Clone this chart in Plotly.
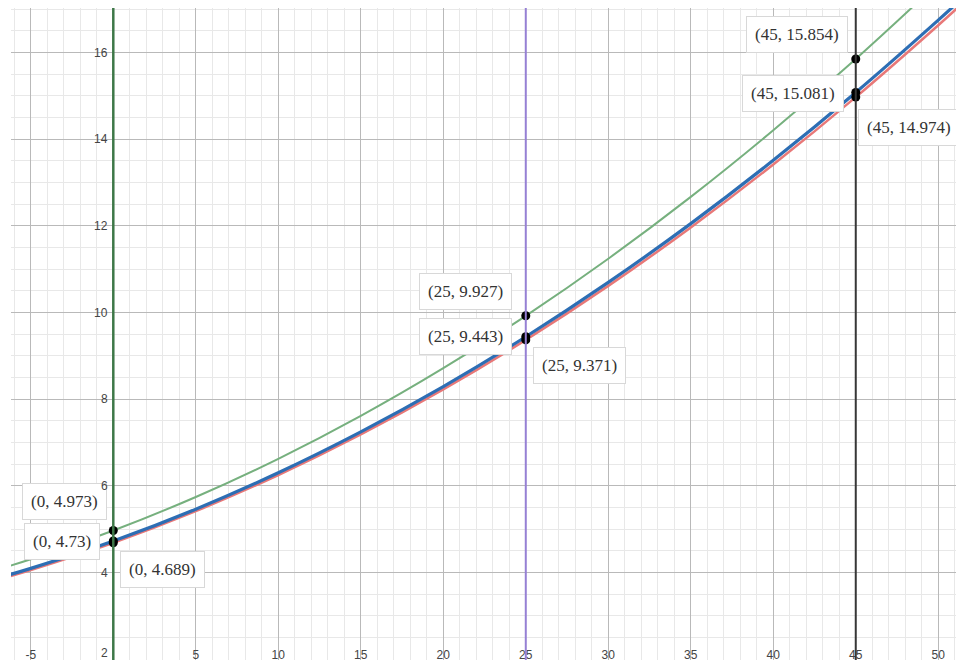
import plotly.graph_objects as go

# ---- data ----
x_samples = [-7, -5, 0, 5, 10, 15, 20, 25, 30, 35, 40, 45, 50, 52]
green_y = [4.075, 4.310, 4.973, 5.746, 6.627, 7.618, 8.718, 9.927, 11.245, 12.672, 14.209, 15.854, 17.609, 18.341]
blue_y = [3.875, 4.099, 4.730, 5.465, 6.304, 7.247, 8.293, 9.443, 10.697, 12.055, 13.516, 15.081, 16.750, 17.447]
red_y = [3.840, 4.062, 4.689, 5.419, 6.252, 7.189, 8.228, 9.371, 10.617, 11.966, 13.419, 14.974, 16.633, 17.325]

marker_x = [0, 25, 45]
point_x = [0, 0, 0, 25, 25, 25, 45, 45, 45]
point_y = [4.973, 4.73, 4.689, 9.927, 9.443, 9.371, 15.854, 15.081, 14.974]

x_tick_vals = [-5, 0, 5, 10, 15, 20, 25, 30, 35, 40, 45, 50]
x_tick_text = ["-5", "", "5", "10", "15", "20", "25", "30", "35", "40", "45", "50"]
y_tick_vals = [2, 4, 6, 8, 10, 12, 14, 16]
y_tick_text = ["2", "4", "6", "8", "10", "12", "14", "16"]

# ---- style / layout ----
X_RANGE = [-6.2, 51.56]
Y_RANGE = [1.984, 17.03]
label_shift = [(-49, 29), (-51, 0), (49, -27),
               (-60, 24), (-60, 0), (54, -26),
               (-59, 24), (-63, -1), (53, -30)]
vline_colors = ["rgb(62,120,72)", "rgb(150,128,212)", "rgb(55,55,55)"]

fig = go.Figure()

fig.add_trace(go.Scatter(x=x_samples, y=green_y, mode="lines", line_shape="spline",
                         line=dict(color="rgb(118,176,126)", width=2), hoverinfo="skip"))
fig.add_trace(go.Scatter(x=x_samples, y=red_y, mode="lines", line_shape="spline",
                         line=dict(color="rgb(232,120,120)", width=2.5), hoverinfo="skip"))
fig.add_trace(go.Scatter(x=x_samples, y=blue_y, mode="lines", line_shape="spline",
                         line=dict(color="rgb(45,110,180)", width=3.2), hoverinfo="skip"))

for xv, col in zip(marker_x, vline_colors):
    fig.add_shape(type="line", xref="x", yref="paper", x0=xv, x1=xv, y0=0, y1=1,
                  line=dict(color=col, width=2.5 if xv == 0 else 2))

fig.add_trace(go.Scatter(x=point_x, y=point_y, mode="markers",
                         marker=dict(color="black", size=9), hoverinfo="skip"))

for (px, py), (dx, dy) in zip(zip(point_x, point_y), label_shift):
    fig.add_annotation(x=px, y=py, xref="x", yref="y", showarrow=False,
                       text=f"({px}, {py})", xshift=dx, yshift=dy,
                       font=dict(family="Liberation Serif, Times New Roman, serif", size=17, color="#333"),
                       bgcolor="white", bordercolor="#d8d8d8", borderwidth=1, borderpad=8)

for v, t in zip(y_tick_vals, y_tick_text):
    bottom = v - Y_RANGE[0] < 0.2
    fig.add_annotation(x=0, y=v, xref="x", yref="y", showarrow=False, text=t,
                       xanchor="right", yanchor="bottom" if bottom else "middle",
                       xshift=-3, yshift=-3 if bottom else 0,
                       font=dict(family="Liberation Sans, Arial, sans-serif", size=12, color="#444"))

fig.update_layout(
    width=956, height=656,
    margin=dict(l=3, r=0, t=0, b=4),
    paper_bgcolor="white", plot_bgcolor="white",
    showlegend=False,
    xaxis=dict(range=X_RANGE, tickmode="array", tickvals=x_tick_vals, ticktext=x_tick_text,
               ticklabelposition="inside", ticklabelstandoff=-4, ticks="", showline=False, zeroline=False,
               showgrid=True, gridcolor="rgb(185,185,185)", gridwidth=1,
               tickfont=dict(family="Liberation Sans, Arial, sans-serif", size=12, color="#444"),
               minor=dict(dtick=1, tick0=0, showgrid=True, gridcolor="rgb(232,232,232)", gridwidth=1),
               fixedrange=True),
    yaxis=dict(range=Y_RANGE, tickmode="array", tickvals=y_tick_vals, showticklabels=False,
               ticks="", showline=False, zeroline=False,
               showgrid=True, gridcolor="rgb(185,185,185)", gridwidth=1,
               minor=dict(dtick=0.5, tick0=0, showgrid=True, gridcolor="rgb(232,232,232)", gridwidth=1),
               fixedrange=True),
)

fig.write_html("out.html")
